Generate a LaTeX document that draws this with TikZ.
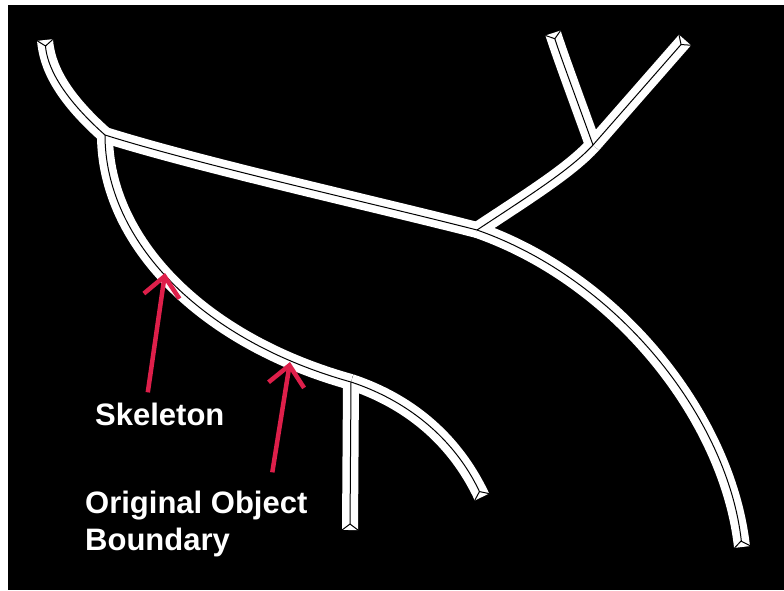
\documentclass[tikz,border=0pt]{standalone}
\usepackage{fontspec}
\setmainfont{Liberation Sans}
\usetikzlibrary{arrows.meta,calc,positioning}
\definecolor{markred}{HTML}{DE1F4A}

% small fork of the skeleton at an open end of a tube
\newcommand{\tubefork}[2]{%
  \draw[skel] ($(#1)+(#2+90:8)$) -- ($(#1)+(#2:6)$) -- ($(#1)+(#2-90:8)$);}

\begin{document}
\begin{tikzpicture}[x=1pt,y=-1pt,
  tube/.style={white,line width=16pt,line join=round},
  skel/.style={black,line width=1pt,line join=round},
  skeltip/.style={skel,shorten >=6pt},
  textlbl/.style={text=white,inner sep=0pt,font=\fontsize{31}{37}\selectfont\bfseries},
  markarrow/.style={draw=markred,line width=4.5pt,-{Straight Barb[length=20pt,width=36pt]}}]
  \useasboundingbox (0,0) rectangle (784,590);
  \fill[white] (0,0) rectangle (784,590);
  \fill[black] (8,5) rectangle (784,590);

  % junctions and open ends
  \coordinate (ja) at (105,135);
  \coordinate (jb) at (351,382);
  \coordinate (jc) at (477,230);
  \coordinate (jd) at (593,145);
  \coordinate (tl) at (45,40);
  \coordinate (ty1) at (553,33);
  \coordinate (ty2) at (685,40);
  \coordinate (br) at (742,547);
  \coordinate (rr) at (482,497);
  \coordinate (bt) at (350,530);

  % white object first, skeleton on top
  \foreach \st/\ed in {tube/tube,skel/skeltip}{
    \draw[\st] (ja) .. controls (200,165) and (380,205) .. (jc);
    \draw[\st] (ja) .. controls (105,240) and (200,340) .. (jb);
    \draw[\st] (jc) .. controls (530,195) and (570,170) .. (jd);
    \draw[\ed] (ja) .. controls (60,95) and (47,65) .. (tl);
    \draw[\ed] (jb) .. controls (420,405) and (460,450) .. (rr);
    \draw[\ed] (jb) -- (bt);
    \draw[\ed] (jc) .. controls (620,280) and (728,420) .. (br);
    \draw[\ed] (jd) .. controls (575,95) and (560,55) .. (ty1);
    \draw[\ed] (jd) -- (ty2);
  }
  \tubefork{tl}{85}
  \tubefork{ty1}{72}
  \tubefork{ty2}{131}
  \tubefork{br}{260}
  \tubefork{rr}{245}
  \tubefork{bt}{270}

  % labels
  \node[textlbl,anchor=base west] (skel) at (95,425) {Skeleton};
  \node[textlbl,anchor=base west] (orig) at (85,513) {Original Object};
  \node[textlbl,below=37pt of orig.base west,anchor=base west] (bnd) {Boundary};

  \coordinate (skelpt) at (165,273);
  \coordinate (edgept) at (290,362);
  \draw[markarrow] ([xshift=-12pt,yshift=10pt]skel.north) -- (skelpt);
  \draw[markarrow] ([xshift=76pt,yshift=18pt]orig.north) -- (edgept);
\end{tikzpicture}
\end{document}
